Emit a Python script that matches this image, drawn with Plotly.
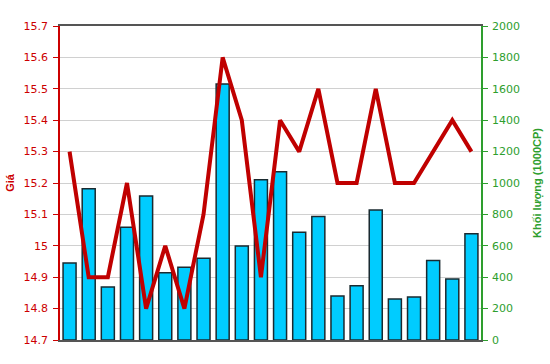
import plotly.graph_objects as go

sessions = list(range(1, 23))
price = [15.3, 14.9, 14.9, 15.2, 14.8, 15.0, 14.8, 15.1, 15.6, 15.4, 14.9,
         15.4, 15.3, 15.5, 15.2, 15.2, 15.5, 15.2, 15.2, 15.3, 15.4, 15.3]
volume = [490, 964, 338, 718, 917, 429, 463, 520, 1631, 599, 1021,
          1072, 686, 786, 280, 346, 828, 261, 274, 507, 389, 677]

RED = "#CC0000"
GREEN = "#2E9E2E"
FONT = "DejaVu Sans"

fig = go.Figure()
fig.add_trace(go.Bar(
    x=sessions, y=volume, yaxis="y", name="Khối lượng",
    marker=dict(color="#00CCFF", line=dict(color="#1a2a30", width=1.5)),
    width=0.68,
))
fig.add_trace(go.Scatter(
    x=sessions, y=price, yaxis="y2", mode="lines", name="Giá",
    line=dict(color="#C00000", width=4),
))

fig.update_layout(
    width=550, height=364,
    margin=dict(l=60, r=69, t=26, b=24),
    paper_bgcolor="white", plot_bgcolor="white",
    showlegend=False,
    font=dict(family=FONT),
    xaxis=dict(
        range=[0.5, 22.5], showticklabels=False, showgrid=False, zeroline=False,
        showline=True, linecolor="#555555", linewidth=1.5, mirror=True, ticks="",
        automargin=False,
    ),
    yaxis=dict(
        side="right", range=[0, 2000], dtick=200, tick0=0, automargin=False,
        showgrid=True, gridcolor="#d0d0d0", gridwidth=1, zeroline=False,
        showline=True, linecolor=GREEN, linewidth=1.5,
        ticks="outside", ticklen=5, tickcolor=GREEN, ticklabelstandoff=2,
        tickfont=dict(color=GREEN, size=11, family=FONT),
        title=dict(text="<b>Khối lượng (1000CP)</b>", font=dict(color=GREEN, size=11, family="Liberation Sans"), standoff=14),
    ),
    yaxis2=dict(
        side="left", overlaying="y", range=[14.7, 15.7], dtick=0.1, tick0=14.7,
        automargin=False,
        showgrid=False, zeroline=False,
        showline=True, linecolor=RED, linewidth=1.5,
        ticks="outside", ticklen=5, tickcolor=RED, ticklabelstandoff=3,
        tickfont=dict(color=RED, size=11, family=FONT),
        title=dict(text="<b>Giá</b>", font=dict(color=RED, size=11, family="Liberation Sans"), standoff=7),
    ),
)

fig.write_html("out.html")
